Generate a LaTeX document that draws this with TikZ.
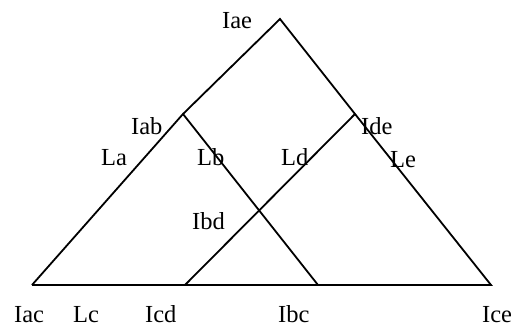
\documentclass[tikz,border=0pt]{standalone}
\usepackage{fontspec}
\setmainfont{Liberation Serif}
\begin{document}
\begin{tikzpicture}[x=1pt,y=1pt,
  edge/.style={line width=1.8pt,line join=miter},
  lbl/.style={anchor=base west,inner sep=0pt,font=\fontsize{24.5}{25}\selectfont}]
\useasboundingbox (0,0) rectangle (511,327);
% vertices
\coordinate (pAE) at (280,308);
\coordinate (pAB) at (183,213);
\coordinate (pDE) at (355,213);
\coordinate (pAC) at (32,42);
\coordinate (pCD) at (185,42);
\coordinate (pBC) at (318,42);
\coordinate (pCE) at (491,42);
% lines
\draw[edge] (pAC) -- (pAB) -- (pAE) -- (pDE) -- (pCE) -- (pBC) -- (pCD) -- (pAC);
\draw[edge] (pAB) -- (pBC);
\draw[edge] (pCD) -- (pDE);
% labels
\node[lbl] (tAE) at (222,298) {Iae};
\node[lbl] (tAB) at (131,192) {Iab};
\node[lbl] (tDE) at (361,192) {Ide};
\node[lbl] (tLa) at (101,161) {La};
\node[lbl] (tLb) at (197,161) {Lb};
\node[lbl] (tLd) at (281,161) {Ld};
\node[lbl] (tLe) at (390,160) {Le};
\node[lbl] (tBD) at (192,98) {Ibd};
\node[lbl] (tAC) at (14,5) {Iac};
\node[lbl] (tLc) at (73,5) {Lc};
\node[lbl] (tCD) at (145,5) {Icd};
\node[lbl] (tBC) at (278,5) {Ibc};
\node[lbl] (tCE) at (482,5) {Ice};
\end{tikzpicture}
\end{document}
